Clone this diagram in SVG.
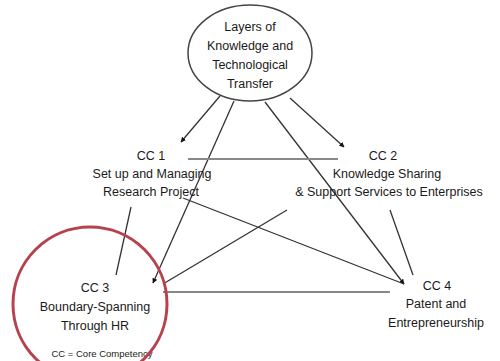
<svg xmlns="http://www.w3.org/2000/svg" width="500" height="361" viewBox="0 0 500 361">
<style>
text{font-family:"Liberation Sans",Arial,sans-serif;font-size:12.5px;fill:#1a1a1a;text-anchor:middle}
.c{stroke:#333;stroke-width:1.3;fill:none}
.g{stroke:#888;stroke-width:2;fill:none}
</style>
<defs>
<marker id="a" viewBox="0 0 10 10" refX="9" refY="5" markerWidth="4" markerHeight="4" orient="auto" markerUnits="strokeWidth">
<path d="M0,0L10,5L0,10z" fill="#111"/>
</marker>
</defs>
<rect width="500" height="361" fill="#fff"/>
<g id="connectors">
<line class="c" x1="220" y1="96" x2="181" y2="142" marker-end="url(#a)"/>
<line class="c" x1="290" y1="98" x2="344" y2="147" marker-end="url(#a)"/>
<line class="c" x1="234" y1="101" x2="153" y2="283" marker-end="url(#a)"/>
<line class="c" x1="265" y1="102" x2="404" y2="284" marker-end="url(#a)"/>
<line class="g" x1="188" y1="159" x2="338" y2="159"/>
<line class="c" x1="183" y1="198" x2="404" y2="284"/>
<line class="c" x1="287" y1="210" x2="163" y2="284"/>
<line class="c" x1="131" y1="207" x2="116" y2="275"/>
<line class="c" x1="390" y1="210" x2="413" y2="275"/>
<line class="g" x1="163" y1="292" x2="390" y2="292"/>
</g>
<g id="layers">
<ellipse cx="250" cy="53" rx="62" ry="48" fill="#fff" stroke="#444" stroke-width="1.5"/>
<text x="250" y="31">Layers of</text>
<text x="250" y="50">Knowledge and</text>
<text x="250" y="69">Technological</text>
<text x="250" y="88">Transfer</text>
</g>
<g id="cc1">
<text x="151" y="160">CC 1</text>
<text x="152" y="178">Set up and Managing</text>
<text x="151" y="196">Research Project</text>
</g>
<g id="cc2">
<text x="383" y="160">CC 2</text>
<text x="387" y="178">Knowledge Sharing</text>
<text x="389" y="196">&amp; Support Services to Enterprises</text>
</g>
<g id="cc3">
<text x="95" y="292">CC 3</text>
<text x="95" y="311">Boundary-Spanning</text>
<text x="95" y="330">Through HR</text>
<text x="102" y="357" style="font-size:9.5px">CC = Core Competency</text>
<circle cx="90" cy="304" r="77" fill="none" stroke="#b5424c" stroke-width="3"/>
</g>
<g id="cc4">
<text x="437" y="290">CC 4</text>
<text x="436" y="308">Patent and</text>
<text x="436" y="327">Entrepreneurship</text>
</g>
</svg>
